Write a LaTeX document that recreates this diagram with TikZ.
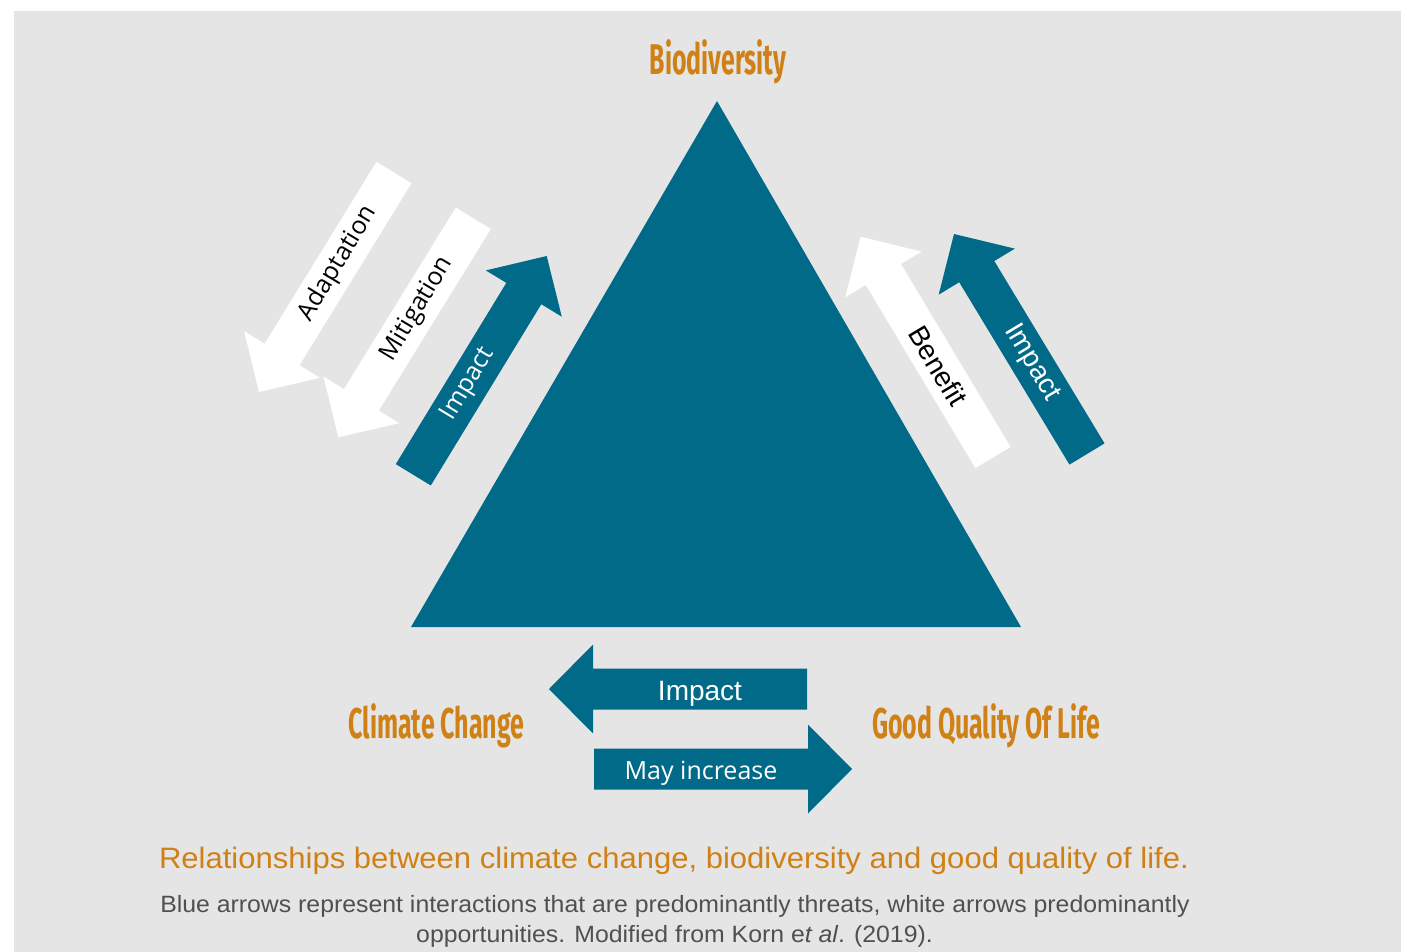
\documentclass[tikz,border=0pt]{standalone}
\usepackage{fontspec}
\usetikzlibrary{calc}

\newfontfamily\headfont[FakeStretch=0.58]{Fira Sans}
\newfontfamily\openfont{Open Sans}
\newfontfamily\arialfont{Liberation Sans}
\newfontfamily\capfont[FakeStretch=1.052]{Liberation Sans}

\definecolor{threatblue}{RGB}{0,106,136}
\definecolor{headorange}{RGB}{208,129,22}
\definecolor{bggray}{RGB}{229,229,229}
\definecolor{notegray}{RGB}{80,80,80}

\tikzset{
    threat/.style={fill=threatblue},
    chance/.style={fill=white},
    openlbl/.style={inner sep=0pt, font=\openfont\fontsize{25}{30}\selectfont},
    ariallbl/.style={inner sep=0pt, font=\arialfont\fontsize{28}{33}\selectfont},
    heading/.style={anchor=base, inner sep=0pt, text=headorange,
        font=\headfont\bfseries\fontsize{43}{50}\selectfont},
    note/.style={anchor=base, inner sep=0pt, text=notegray,
        font=\capfont\fontsize{23.6}{29}\selectfont},
}

% block arrow: style, tail, tip, name of the shaft middle
\newcommand{\blockarrow}[4]{%
    \coordinate (hb) at ($(#3)!44pt!(#2)$);
    \fill[#1] ($(#2)!20.5pt!90:(#3)$) -- ($(hb)!20.5pt!90:(#3)$)
        -- ($(hb)!44.5pt!90:(#3)$) -- (#3) -- ($(hb)!44.5pt!-90:(#3)$)
        -- ($(hb)!20.5pt!-90:(#3)$) -- ($(#2)!20.5pt!-90:(#3)$) -- cycle;
    \coordinate (#4) at ($(#2)!0.5!(hb)$);
}

\begin{document}
\begin{tikzpicture}[x=1pt, y=-1pt]
        \useasboundingbox (0, 0) rectangle (1401, 952);
        \fill[bggray] (14, 11) rectangle (1401, 952);

        \coordinate (top) at (717, 101);
        \coordinate (left) at (411, 627);
        \coordinate (right) at (1021, 627);
        \fill[threatblue] (top) -- (left) -- (right) -- cycle;

        \coordinate (adaptT) at (394, 172.5);
        \coordinate (adaptP) at (259, 392);
        \coordinate (mitigT) at (473.3, 218.3);
        \coordinate (mitigP) at (338.3, 437.3);
        \coordinate (impLT) at (413.3, 474.8);
        \coordinate (impLP) at (546.7, 256);
        \coordinate (benT) at (993, 457.5);
        \coordinate (benP) at (860.7, 236.7);
        \coordinate (impRT) at (1087, 454);
        \coordinate (impRP) at (954, 234);
        \coordinate (impBT) at (807, 689);
        \coordinate (impBP) at (549, 689);
        \coordinate (mayT) at (594, 769);
        \coordinate (mayP) at (852, 769);

        \blockarrow{chance}{adaptT}{adaptP}{adaptM}
        \blockarrow{chance}{mitigT}{mitigP}{mitigM}
        \blockarrow{threat}{impLT}{impLP}{impLM}
        \blockarrow{chance}{benT}{benP}{benM}
        \blockarrow{threat}{impRT}{impRP}{impRM}
        \blockarrow{threat}{impBT}{impBP}{impBM}
        \blockarrow{threat}{mayT}{mayP}{mayM}

        \node[openlbl, rotate=59] (adapt) at (adaptM){Adaptation};
        \node[openlbl, rotate=59] (mitig) at (mitigM){Mitigation};
        \node[openlbl, rotate=59, text=white] (impL) at (impLM){Impact};
        \node[ariallbl, rotate=-59] (ben) at (benM){Benefit};
        \node[ariallbl, rotate=-59, text=white] (impR) at (impRM){Impact};
        \node[ariallbl, anchor=base, text=white] (impB) at (impBM |- 0, 700){Impact};
        \node[openlbl, anchor=base, text=white] (may) at (mayM |- 0, 779){May increase};

        \node[heading] (bio) at (718, 75){Biodiversity};
        \node[heading] (climate) at (436.5, 738){Climate Change};
        \node[heading] (life) at (986, 738){Good Quality Of Life};

        \node[note, text=headorange, font=\capfont\fontsize{29.5}{35}\selectfont] (title) at (674, 868.3)
            {Relationships between climate change, biodiversity and good quality of life.};
        \node[note] (note1) at (675, 912.3)
            {Blue arrows represent interactions that are predominantly threats, white arrows predominantly};
        \node[note] (note2) at (674.5, 942.3)
            {opportunities. Modified from Korn e\textit{t al}. (2019).};
    \end{tikzpicture}
\end{document}
